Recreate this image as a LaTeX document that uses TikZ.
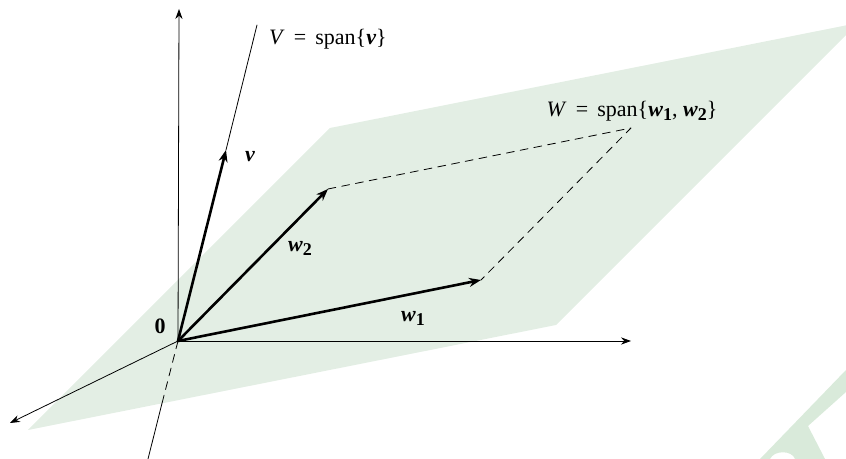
\documentclass[tikz,border=0pt]{standalone}
\usepackage{fontspec}
\setmainfont{Liberation Serif}
\usetikzlibrary{arrows.meta}
\definecolor{planegreen}{RGB}{227,238,228}
\definecolor{markgreen}{RGB}{217,234,218}
\newcommand{\bvec}[1]{\textbf{\textit{#1}}}
\newcommand{\bsub}[1]{\raisebox{-0.4ex}{\small\textbf{#1}}}

\begin{document}
\begin{tikzpicture}[x=0.5pt, y=-0.5pt, line join=round, line cap=round,
  font=\fontsize{11}{13}\selectfont,
  axis/.style={thin, -{Stealth[length=5pt, width=3.6pt]}},
  vec/.style={line width=1.3pt, -{Stealth[length=6pt, width=4.5pt]}},
  guide/.style={thin, dash pattern=on 4pt off 3pt}]
\useasboundingbox (0,0) rectangle (846,459);
\coordinate (O) at (178,341);
\coordinate (X) at (631,341);
\coordinate (Z) at (179,9);
\coordinate (Y) at (10,423);
\coordinate (Vtop) at (257,25);
\coordinate (Vbot) at (148,459);
\coordinate (v) at (226,150);
\coordinate (w1) at (481,280);
\coordinate (w2) at (328,189);
\coordinate (w12) at (631,128);
\coordinate (P1) at (28,430);
\coordinate (P2) at (556,325);
\coordinate (P3) at (858,23);
\coordinate (P4) at (330,128);
\coordinate (Vcut) at (intersection of P1--P2 and Vtop--Vbot);
% the plane W and the mark in the corner
\fill[planegreen] (P1)--(P2)--(P3)--(P4)--cycle;
\fill[markgreen] (760,459)--(846,370)--(846,392)--(808,426)--(825,459)--(795,459)
  .. controls (792,450) and (774,450) .. (770,459)--cycle;
% axes
\draw[axis] (O)--(X);
\draw[axis] (O)--(Z);
\draw[axis] (O)--(Y);
% the line V
\draw[thin] (v)--(Vtop);
\draw[guide] (O)--(Vcut);
\draw[thin] (Vcut)--(Vbot);
\draw[guide] (w2)--(w12)--(w1);
% vectors
\draw[vec] (O)--(v);
\draw[vec] (O)--(w2);
\draw[vec] (O)--(w1);
\node[anchor=west] (Vlabel) at (262,39) {\textit{V}\, = \,span\{\bvec{v}\}};
\node (Wlabel) at (632,111) {\textit{W}\, = \,span\{\bvec{w}\bsub{1}, \bvec{w}\bsub{2}\}};
\node (vlabel) at (250,157) {\bvec{v}};
\node (wlabel2) at (300,248) {\bvec{w}\bsub{2}};
\node (wlabel1) at (413,318) {\bvec{w}\bsub{1}};
\node (Olabel) at (160,326) {\textbf{0}};
\end{tikzpicture}
\end{document}
